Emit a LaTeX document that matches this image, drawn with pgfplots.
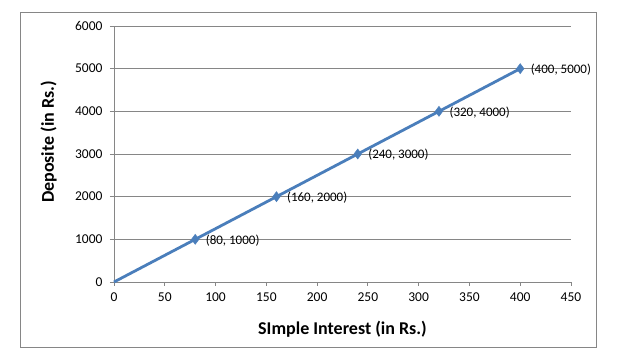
\documentclass[border=0pt]{standalone}
\usepackage{fontspec}
\setmainfont{Carlito}
\usepackage{pgfplots}
\pgfplotsset{compat=1.18}
\definecolor{xlblue}{HTML}{4A7EBB}
\definecolor{axgray}{HTML}{868686}
\begin{document}
\begin{tikzpicture}[x=1pt,y=1pt]
\useasboundingbox (0,0) rectangle (638,358);
\fill[white] (0,0) rectangle (638,358);
\draw[axgray, line width=1pt] (20.5,10) rectangle (596,345.5);
\begin{axis}[
  at={(114pt,76pt)}, anchor=south west,
  width=457pt, height=256pt, scale only axis,
  xmin=0, xmax=450, ymin=0, ymax=6000,
  xtick={0,50,...,450}, ytick={0,1000,...,6000},
  axis x line*=bottom, axis y line*=left,
  axis line style={axgray, line width=0.8pt, -},
  tick style={axgray, line width=0.8pt},
  tick align=outside, major tick length=4pt,
  ymajorgrids, grid style={axgray, line width=0.8pt},
  /pgf/number format/assume math mode=true,
  /pgf/number format/set thousands separator={},
  tick label style={font=\fontsize{13.5}{15}\selectfont, text=black},
  xticklabel style={yshift=-3pt},
  yticklabel style={xshift=-4pt},
  clip=false,
]
\addplot[xlblue, line width=2.8pt, mark=none]
  coordinates {(0,0) (80,1000) (160,2000) (240,3000) (320,4000) (400,5000)};
\addplot[only marks, mark=diamond*, mark size=5pt, mark options={fill=xlblue, draw=xlblue, line width=0.5pt},
  nodes near coords={(\pgfmathprintnumber{\pgfkeysvalueof{/data point/x}}, \pgfmathprintnumber{\pgfkeysvalueof{/data point/y}})},
  every node near coord/.style={anchor=west, xshift=7pt, yshift=-1pt, font=\fontsize{13}{15}\selectfont, text=black}]
  coordinates {(80,1000) (160,2000) (240,3000) (320,4000) (400,5000)};
\end{axis}
\node[font=\fontsize{18}{20}\selectfont\bfseries] at (342.5,29) {SImple Interest (in Rs.)};
\node[font=\fontsize{18}{20}\selectfont\bfseries, rotate=90] at (48.5,216) {Deposite (in Rs.)};
\end{tikzpicture}
\end{document}
